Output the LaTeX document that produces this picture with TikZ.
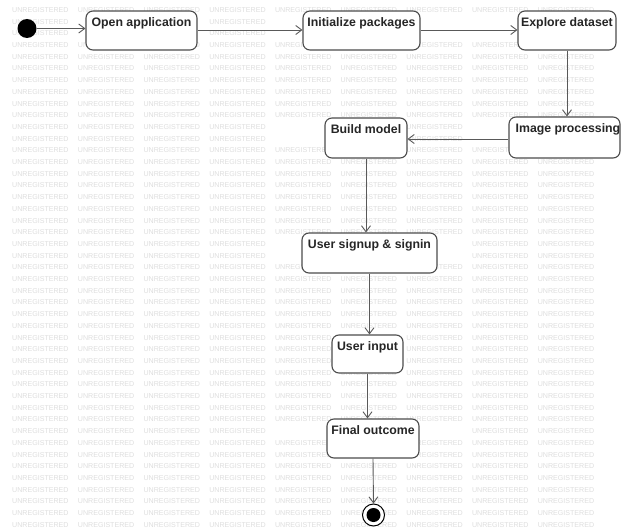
\documentclass[tikz,border=0pt]{standalone}
\usepackage{fontspec}
\setmainfont{Liberation Sans}
\usetikzlibrary{arrows.meta}
\begin{document}
\begin{tikzpicture}[x=1pt,y=-1pt,
  act/.style={draw=black!70, line width=1.1pt, rounded corners=7pt, fill=white, rectangle, inner sep=0pt},
  lbl/.style={anchor=north, font=\bfseries\fontsize{12.3}{14}\selectfont, text=black!85, inner sep=0pt},
  flow/.style={draw=black!65, line width=0.9pt, -{Straight Barb[length=6pt,width=9pt]}},
  wm/.style={anchor=west, font=\fontsize{7.1}{8}\selectfont, text=black!13, inner sep=0pt}]
\useasboundingbox (0,0) rectangle (621,532);
\fill[white] (0,0) rectangle (621,532);
\begin{scope}
\clip (0,0) rectangle (621,532);
% watermark, left out only where it would run under a label
\foreach \r in {0,...,44} {
  \foreach \c in {0,...,8} {
    \pgfmathsetmacro\wx{12+65.7*\c}
    \pgfmathsetmacro\wy{10+11.7*\r}
    \gdef\wmflag{1}
    \foreach \xa/\ya/\xb/\yb in {92/18/193/31, 306/18/418/31, 522/18/612/31,
        516/124/621/137, 331/125/401/138, 307/240/433/253, 337/342/398/355,
        331/426/415/439} {
      \pgfmathtruncatemacro\hit{and(and(\wx<\xb,\wx+58>\xa),and(\wy+3>\ya,\wy-3<\yb))}
      \ifnum\hit=1 \gdef\wmflag{0}\fi
    }
    \ifnum\wmflag=1 \node[wm] at (\wx,\wy) {UNREGISTERED};\fi
  }
}
% activity boxes
\node[act, minimum width=111pt, minimum height=39pt] (open) at (141.5,30.5) {};
\node[act, minimum width=117pt, minimum height=39pt] (init) at (361.5,30.5) {};
\node[act, minimum width=98pt, minimum height=39pt] (explore) at (567,30.5) {};
\node[act, minimum width=111pt, minimum height=41pt] (imgproc) at (564.5,137.5) {};
\node[act, minimum width=82pt, minimum height=40pt] (build) at (366,138) {};
\node[act, minimum width=135pt, minimum height=40pt] (signup) at (369.5,253) {};
\node[act, minimum width=71pt, minimum height=38pt] (input) at (367.5,354) {};
\node[act, minimum width=92pt, minimum height=39pt] (outcome) at (373,438.5) {};
% labels
\node[lbl] (openL) at ([yshift=-7pt]open.north) {Open application};
\node[lbl] (initL) at ([yshift=-7pt]init.north) {Initialize packages};
\node[lbl] (exploreL) at ([yshift=-7pt]explore.north) {Explore dataset};
\node[lbl, anchor=north west] (imgprocL) at ([xshift=7pt,yshift=-7pt]imgproc.north west) {Image processing};
\node[lbl] (buildL) at ([yshift=-7pt]build.north) {Build model};
\node[lbl] (signupL) at ([yshift=-7pt]signup.north) {User signup \& signin};
\node[lbl] (inputL) at ([yshift=-7pt]input.north) {User input};
\node[lbl] (outcomeL) at ([yshift=-7pt]outcome.north) {Final outcome};
% start and end
\node[circle, fill=black, minimum size=19pt, inner sep=0pt] (start) at (27,28.5) {};
\node[circle, draw=black, line width=1pt, fill=white, minimum size=22pt, inner sep=0pt] (endo) at (373.5,515) {};
\node[circle, fill=black, minimum size=14pt, inner sep=0pt] (endi) at (373.5,515) {};
% flows
\draw[flow] (start.east) -- (start.east -| open.west);
\draw[flow] (open.east |- 0,30) -- (init.west |- 0,30);
\draw[flow] (init.east |- 0,30) -- (explore.west |- 0,30);
\draw[flow] (explore.south) -- (imgproc.north -| explore.south);
\draw[flow] (imgproc.west |- 0,139) -- (build.east |- 0,139);
\draw[flow] (build.south) -- (signup.north -| build.south);
\draw[flow] (signup.south) -- (input.north -| signup.south);
\draw[flow] (input.south) -- (outcome.north -| input.south);
\draw[flow] (outcome.south) -- (endo.north);
\end{scope}
\end{tikzpicture}
\end{document}
